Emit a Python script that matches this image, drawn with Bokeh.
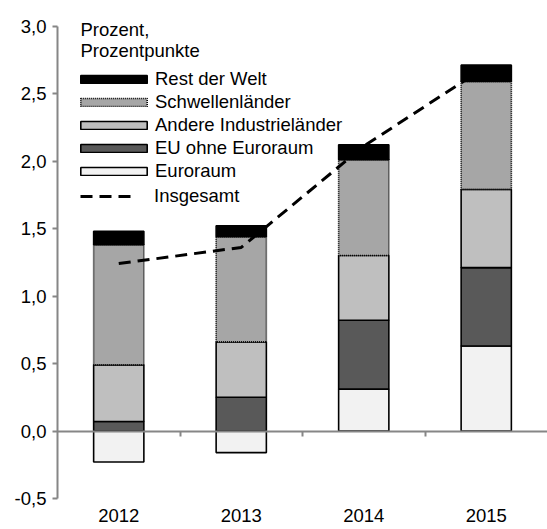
from bokeh.plotting import figure
from bokeh.models import (Range1d, FixedTicker, LinearAxis, Legend, LegendItem, Label,
                          CustomJSTickFormatter, ColumnDataSource)
from bokeh.embed import file_html
from bokeh.resources import INLINE

years = ["2012", "2013", "2014", "2015"]
euroraum = [-0.23, -0.16, 0.31, 0.63]
eu_ohne_euroraum = [0.07, 0.25, 0.51, 0.58]
andere_industrielaender = [0.42, 0.41, 0.48, 0.58]
schwellenlaender = [0.89, 0.78, 0.71, 0.80]
rest_der_welt = [0.10, 0.08, 0.11, 0.12]
insgesamt = [1.24, 1.36, 2.11, 2.70]
y_ticks = [-0.5, 0.0, 0.5, 1.0, 1.5, 2.0, 2.5, 3.0]

FONT = "Liberation Sans"
FS = "18.5px"
AXIS_GRAY = "#868686"

stack = [
    ("Euroraum", euroraum, "#F2F2F2", "solid"),
    ("EU ohne Euroraum", eu_ohne_euroraum, "#595959", "solid"),
    ("Andere Industrieländer", andere_industrielaender, "#BFBFBF", "solid"),
    ("Schwellenländer", schwellenlaender, "#A6A6A6", "1 1"),
    ("Rest der Welt", rest_der_welt, "#000000", "solid"),
]

n = len(years)
xs = list(range(n))

# frame: 490 x 498 px, 135 px per unit on the value axis; headroom above 3,0 for the unit label
p = figure(width=547, height=529,
           x_range=Range1d(-0.5, n - 0.5), y_range=Range1d(y_ticks[0], y_ticks[0] + 498 / 135.0),
           x_axis_type=None, y_axis_type=None,
           output_backend="svg", toolbar_location=None,
           min_border_left=57, min_border_right=0, min_border_top=0, min_border_bottom=31)
p.outline_line_color = None
p.background_fill_color = "white"

# y axis
yaxis = LinearAxis(ticker=FixedTicker(ticks=y_ticks), bounds=(y_ticks[0], y_ticks[-1]),
                   formatter=CustomJSTickFormatter(code="return tick.toFixed(1).replace('.', ',');"))
yaxis.axis_line_color = AXIS_GRAY
yaxis.axis_line_width = 2
yaxis.major_tick_line_color = AXIS_GRAY
yaxis.major_tick_line_width = 2
yaxis.major_tick_in = 0
yaxis.major_tick_out = 5
yaxis.minor_tick_line_color = None
yaxis.major_label_text_font = FONT
yaxis.major_label_text_font_size = FS
yaxis.major_label_text_color = "black"
yaxis.major_label_standoff = 6
p.add_layout(yaxis, "left")

# bottom axis carrying only the year labels
xaxis = LinearAxis(ticker=FixedTicker(ticks=xs),
                   major_label_overrides={i: y for i, y in enumerate(years)})
xaxis.axis_line_color = None
xaxis.major_tick_line_color = None
xaxis.major_tick_in = 0
xaxis.major_tick_out = 0
xaxis.minor_tick_line_color = None
xaxis.major_label_text_font = FONT
xaxis.major_label_text_font_size = FS
xaxis.major_label_text_color = "black"
xaxis.major_label_standoff = 10
p.add_layout(xaxis, "below")

# zero axis with ticks between categories
zero_axis = LinearAxis(fixed_location=0,
                       ticker=FixedTicker(ticks=[i + 0.5 for i in range(n - 1)]),
                       formatter=CustomJSTickFormatter(code="return '';"))
zero_axis.axis_line_color = AXIS_GRAY
zero_axis.axis_line_width = 2
zero_axis.major_tick_line_color = AXIS_GRAY
zero_axis.major_tick_line_width = 2
zero_axis.major_tick_in = 0
zero_axis.major_tick_out = 5
zero_axis.minor_tick_line_color = None
zero_axis.major_label_text_font_size = "0px"
p.add_layout(zero_axis, "below")

pos_base = [0.0] * n
neg_base = [0.0] * n
renderers = {}
for name, vals, color, dash in stack:
    bottoms, tops = [], []
    for i, v in enumerate(vals):
        if v >= 0:
            b = pos_base[i]; t = b + v; pos_base[i] = t
        else:
            b = neg_base[i]; t = b + v; neg_base[i] = t
        bottoms.append(b); tops.append(t)
    src = ColumnDataSource(dict(x=xs, bottom=bottoms, top=tops))
    r = p.vbar(x="x", width=0.41, bottom="bottom", top="top", source=src,
               fill_color=color, line_color="black", line_width=1.6, line_dash=dash)
    renderers[name] = r

line_src = ColumnDataSource(dict(x=xs, y=insgesamt))
lr = p.line(x="x", y="y", source=line_src, line_color="black", line_width=3,
            line_dash="12 7")
renderers["Insgesamt"] = lr


def style_legend(lg, glyph_w, glyph_h, standoff):
    lg.border_line_color = None
    lg.background_fill_alpha = 0
    lg.padding = 0
    lg.margin = 0
    lg.spacing = 0
    lg.glyph_width = glyph_w
    lg.glyph_height = glyph_h
    lg.label_height = 23
    lg.label_standoff = standoff
    lg.label_text_font = FONT
    lg.label_text_font_size = FS
    lg.label_text_color = "black"


bar_order = ["Rest der Welt", "Schwellenländer", "Andere Industrieländer",
             "EU ohne Euroraum", "Euroraum"]
bar_legend = Legend(items=[LegendItem(label=nm, renderers=[renderers[nm]]) for nm in bar_order],
                    location=(15, 316))
style_legend(bar_legend, 83, 10, 0)
p.add_layout(bar_legend, "center")

line_legend = Legend(items=[LegendItem(label="Insgesamt", renderers=[renderers["Insgesamt"]])],
                     location=(23, 291))
style_legend(line_legend, 57, 10, 17)
p.add_layout(line_legend, "center")

for txt, yy in [("Prozent,", 469), ("Prozentpunkte", 448)]:
    p.add_layout(Label(x=23, y=yy, x_units="screen", y_units="screen", text=txt,
                       text_font=FONT, text_font_size=FS, text_baseline="alphabetic",
                       text_color="black"))

open("out.html", "w").write(file_html(p, INLINE))
